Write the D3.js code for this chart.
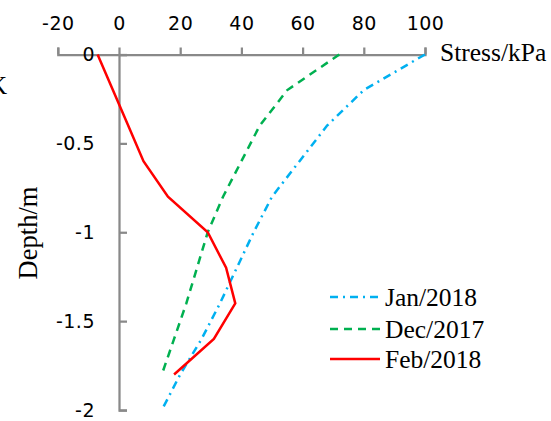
<!DOCTYPE html>
<html><head><meta charset="utf-8">
<script src="https://cdn.jsdelivr.net/npm/d3@7"></script>
<style>body{margin:0;background:#fff}svg{display:block}</style>
</head><body>
<script>
const depths = [0, -0.2, -0.4, -0.6, -0.8, -1.0, -1.2, -1.4, -1.6, -1.8, -2.0];
const jan2018 = [100, 80, 68, 59, 50, 44, 38.5, 33, 27, 20, 14];
const dec2017 = [72, 55, 46, 40, 34, 29, 25.5, 22, 18, 14];
const feb2018 = [-7, -2, 3, 8, 16, 29, 35, 38, 31, 18];
const seriesNames = ["Jan/2018", "Dec/2017", "Feb/2018"];
const xTicks = [-20, 0, 20, 40, 60, 80, 100];
const yTicks = [0, -0.5, -1, -1.5, -2];
const xTitle = "Stress/kPa", yTitle = "Depth/m";

const W = 551, H = 421;
const svg = d3.select("body").append("svg").attr("width", W).attr("height", H);
const x = d3.scaleLinear().domain([-20, 100]).range([57.8, 425]);
const y = d3.scaleLinear().domain([0, -2]).range([54.5, 410]);
const axisColor = "#898989";
const tickFont = "'DejaVu Sans', 'Open Sans', sans-serif";
const serif = "'Liberation Serif', 'Times New Roman', serif";
const fmt = d => String(d);

// clipped stray glyph at left edge
svg.append("text").attr("x", -11).attr("y", 94).attr("font-family", serif)
  .attr("font-size", 25).text("K");

// x axis (top)
const gx = svg.append("g").attr("transform", `translate(0,${y(0)})`)
  .call(d3.axisTop(x).tickValues(xTicks).tickSize(7).tickPadding(18).tickFormat(fmt));
gx.selectAll("path, line").attr("stroke", axisColor).attr("stroke-width", 2.25);
gx.selectAll("text").attr("font-family", tickFont).attr("font-size", 19).attr("fill", "#000")
  .attr("letter-spacing", 0.5);

// y axis (at x=0), ticks point right
const gy = svg.append("g").attr("transform", `translate(${x(0)},0)`)
  .call(d3.axisLeft(y).tickValues(yTicks).tickSizeInner(-8).tickSizeOuter(-8).tickPadding(24)
    .tickFormat(fmt));
gy.selectAll("path, line").attr("stroke", axisColor).attr("stroke-width", 2.25);
gy.selectAll("text").attr("font-family", tickFont).attr("font-size", 19).attr("fill", "#000")
  .attr("letter-spacing", 0.5);

// titles
svg.append("text").attr("x", 440).attr("y", 52).attr("dominant-baseline", "central")
  .attr("font-family", serif).attr("font-size", 25.5).text(xTitle);
svg.append("text").attr("transform", `translate(28,233) rotate(-90)`).attr("text-anchor", "middle")
  .attr("dominant-baseline", "central").attr("font-family", serif).attr("font-size", 26.5).text(yTitle);

const series = [
  {name: seriesNames[0], vals: jan2018, color: "#00B0F0", dash: "8,5,2,5"},
  {name: seriesNames[1], vals: dec2017, color: "#00B050", dash: "8,6"},
  {name: seriesNames[2], vals: feb2018, color: "#FF0000", dash: null}
];
const line = d3.line().x(d => x(d[0])).y(d => y(d[1]));
series.forEach(s => {
  const pts = s.vals.map((v, i) => [v, depths[i]]);
  svg.append("path").datum(pts).attr("d", line).attr("fill", "none")
    .attr("stroke", s.color).attr("stroke-width", 2.5)
    .attr("stroke-dasharray", s.dash);
});

// legend
const ly = [297, 329, 359];
series.forEach((s, i) => {
  svg.append("line").attr("x1", 330).attr("x2", 380).attr("y1", ly[i]).attr("y2", ly[i])
    .attr("stroke", s.color).attr("stroke-width", 2.5).attr("stroke-dasharray", s.dash);
  svg.append("text").attr("x", 385).attr("y", ly[i]).attr("dominant-baseline", "central")
    .attr("font-family", serif).attr("font-size", 25.5).text(s.name);
});
</script>
</body></html>
